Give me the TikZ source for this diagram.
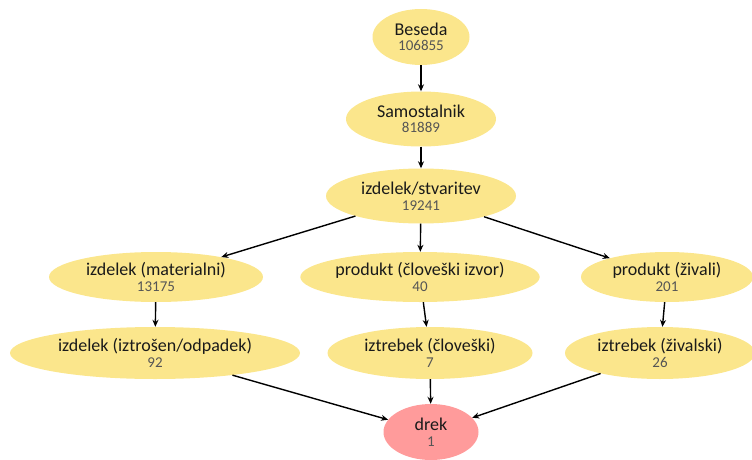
\documentclass[tikz,border=0pt]{standalone}
\usepackage{fontspec}
\setmainfont{Carlito}
\usetikzlibrary{shapes.geometric,arrows.meta}
\definecolor{nodey}{HTML}{FBE68C}
\definecolor{noder}{HTML}{FF9B9B}
\definecolor{numc}{HTML}{555555}
\definecolor{namec}{HTML}{1A1A1A}
\newcommand{\nm}[2]{{\color{namec}#1}\\{\fontsize{15}{15.5}\selectfont\color{numc}#2}}
\tikzset{
  nd/.style={ellipse, fill=nodey, draw=none, inner sep=0pt, align=center, font=\fontsize{18}{15.5}\selectfont},
  ndr/.style={nd, fill=noder},
  edge/.style={-{Stealth[length=7pt,width=6pt]}, line width=1.4pt, black}
}
\begin{document}
\begin{tikzpicture}[x=1pt,y=-1pt]
\useasboundingbox (0,0) rectangle (752,460);
\node[nd, minimum width=97, minimum height=56] (b) at (421,37) {\nm{Beseda}{106855}};
\node[nd, minimum width=150, minimum height=55] (s) at (421,119) {\nm{Samostalnik}{81889}};
\node[nd, minimum width=190, minimum height=55] (i) at (421,196) {\nm{izdelek/stvaritev}{19241}};
\node[nd, minimum width=214, minimum height=50] (m) at (156,277) {\nm{izdelek (materialni)}{13175}};
\node[nd, minimum width=238, minimum height=50] (c) at (420,277) {\nm{produkt (človeški izvor)}{40}};
\node[nd, minimum width=172, minimum height=50] (z) at (667,277) {\nm{produkt (živali)}{201}};
\node[nd, minimum width=290, minimum height=52] (o) at (155,353) {\nm{izdelek (iztrošen/odpadek)}{92}};
\node[nd, minimum width=205, minimum height=52] (ci) at (430,353) {\nm{iztrebek (človeški)}{7}};
\node[nd, minimum width=190, minimum height=52] (zi) at (660,353) {\nm{iztrebek (živalski)}{26}};
\node[ndr, minimum width=95, minimum height=56] (d) at (431,432) {\nm{drek}{1}};
\draw[edge] (b) -- (s);
\draw[edge] (s) -- (i);
\draw[edge] (i) -- (m);
\draw[edge] (i) -- (c);
\draw[edge] (i) -- (z);
\draw[edge] (m) -- (o);
\draw[edge] (c) -- (ci);
\draw[edge] (z) -- (zi);
\draw[edge] (o) -- (d);
\draw[edge] (ci) -- (d);
\draw[edge] (zi) -- (d);
\end{tikzpicture}
\end{document}
